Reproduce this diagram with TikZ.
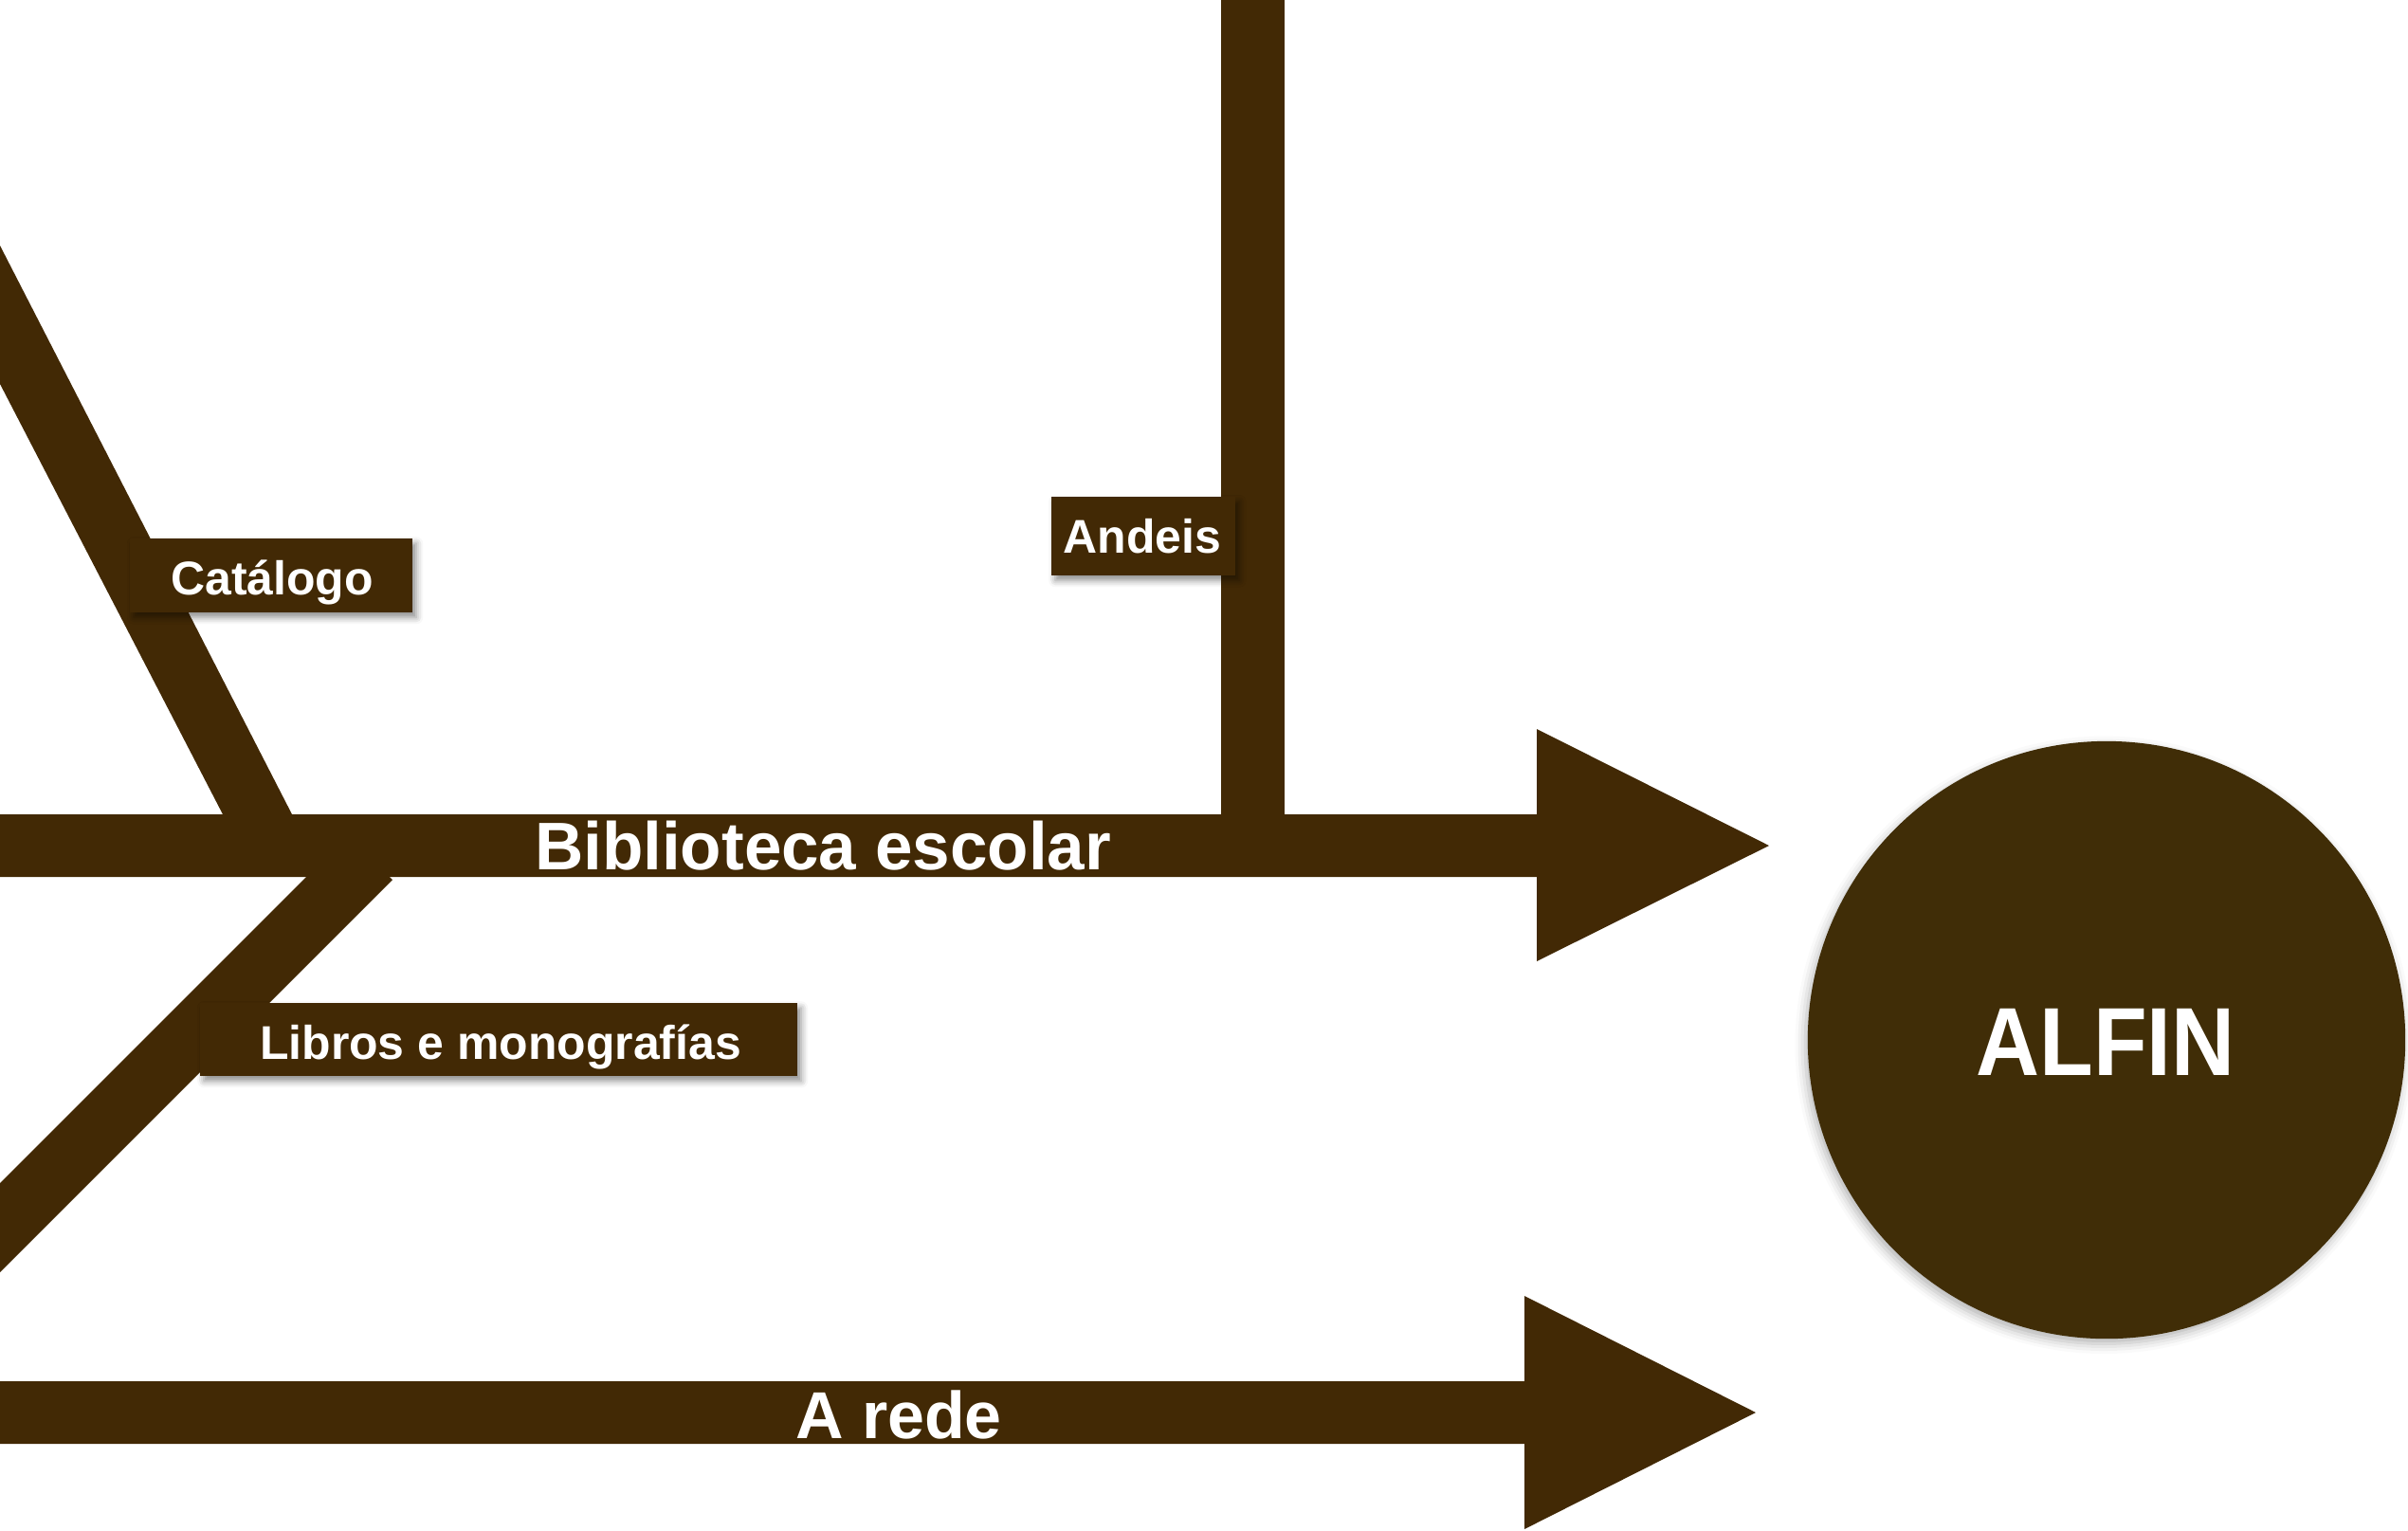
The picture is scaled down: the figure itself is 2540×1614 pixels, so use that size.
\documentclass[tikz,border=0pt]{standalone}
\usepackage{fontspec}
\setmainfont{Liberation Sans}
\usetikzlibrary{fit,shadows.blur}
\definecolor{brown}{HTML}{422905}
\definecolor{brownc}{HTML}{402D07}
\tikzset{
  band/.style={fill=brown},
  labelbox/.style={fill=brown, inner sep=0pt, rectangle,
    blur shadow={shadow xshift=1.2pt, shadow yshift=-1.5pt, shadow blur radius=2pt, shadow opacity=45}},
  smalltxt/.style={text=white, inner sep=0pt, anchor=base, font=\bfseries\fontsize{14.2}{17}\selectfont},
  bigtxt/.style={text=white, inner sep=0pt, anchor=base, font=\bfseries\fontsize{20.2}{24}\selectfont},
}
\begin{document}
\begin{tikzpicture}[x=0.01cm, y=-0.01cm]
\useasboundingbox (0,0) rectangle (2540,1614);
% branches
\fill[band] (0,259) -- (308,859) -- (235,859) -- (0,405) -- cycle;
\fill[band] (0,1248) -- (323,925) -- (411,925) -- (414,928) -- (0,1342) -- cycle;
\fill[band] (1288,0) rectangle (1355,859);
% main arrows
\fill[band] (0,859) -- (1621,859) -- (1621,769) -- (1866,892) -- (1621,1014) -- (1621,925) -- (0,925) -- cycle;
\fill[band] (0,1457) -- (1608,1457) -- (1608,1367) -- (1852,1490) -- (1608,1613) -- (1608,1523) -- (0,1523) -- cycle;
% label boxes
\node[labelbox, fit={(137,568) (435,646)}] (catbox) {};
\node[labelbox, fit={(211,1058) (841,1135)}] (libbox) {};
\node[labelbox, fit={(1109,524) (1303,607)}] (andbox) {};
\node[smalltxt] (cat) at (287,627) {Catálogo};
\node[smalltxt] (lib) at (528,1117) {Libros e monografías};
\node[smalltxt] (and) at (1205,583) {Andeis};
\node[bigtxt] (bib) at (868,917) {Biblioteca escolar};
\node[text=white, inner sep=0pt, anchor=base, font=\bfseries\fontsize{19.9}{24}\selectfont] (rede) at (948,1517) {A rede};
% goal circle
\node[circle, fill=brownc, minimum size=6.3cm, inner sep=0pt,
  blur shadow={shadow xshift=-0.8pt, shadow yshift=-1.5pt, shadow blur radius=3pt, shadow opacity=30}] (alfin) at (2222,1097) {};
\node[text=white, inner sep=0pt, anchor=base, font=\bfseries\fontsize{26.4}{30}\selectfont] (alfintxt) at (2221,1134) {\scalebox{1}[1.1]{ALFIN}};
\end{tikzpicture}
\end{document}
